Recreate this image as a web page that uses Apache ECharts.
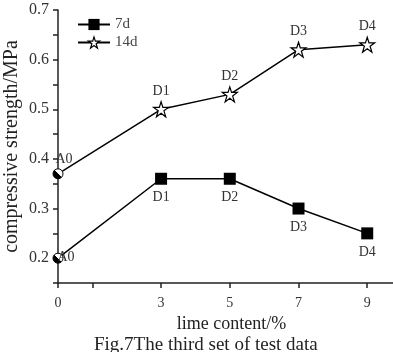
<!DOCTYPE html>
<html>
<head>
<meta charset="utf-8">
<script src="https://cdn.jsdelivr.net/npm/echarts@6/dist/echarts.min.js"></script>
<style>
  html, body { margin: 0; padding: 0; background: #fff; }
  #chart-panel { width: 393px; height: 352px; }
</style>
</head>
<body>
<div id="chart-panel"></div>
<script>
// lime content (%) and strength (MPa)
const limeContent = [0, 3, 5, 7, 9]
const pointNames = ["A0", "D1", "D2", "D3", "D4"]
const strength7d = [0.2, 0.36, 0.36, 0.3, 0.25]
const strength14d = [0.37, 0.5, 0.53, 0.62, 0.63]
const xTicks = [0, 1, 3, 5, 7, 9]
const xLabels = [0, 3, 5, 7, 9]
const yTicks = [0.15, 0.2, 0.25, 0.3, 0.35, 0.4, 0.45, 0.5, 0.55, 0.6, 0.65, 0.7]
const yLabels = [0.2, 0.3, 0.4, 0.5, 0.6, 0.7]

const font = "'Liberation Serif', 'DejaVu Serif', serif"
const starPath = "path://M50,0 L61.8,35.4 L100,35.4 L69.1,57.3 L80.9,95.1 L50,72.4 L19.1,95.1 L30.9,57.3 L0,35.4 L38.2,35.4 Z"

// half black / half white circle for the A0 points
const halfFill = {
  type: "linear", x: 1, y: 0, x2: 0, y2: 1,
  colorStops: [
    { offset: 0, color: "#fff" },
    { offset: 0.5, color: "#fff" },
    { offset: 0.5, color: "#000" },
    { offset: 1, color: "#000" }
  ]
}

const buildData = (values, labelPos) => {
  return values.map((v, i) => {
    const item = { value: [limeContent[i], v], name: pointNames[i] }
    if (i === 0) {
      item.symbol = "circle"
      item.symbolSize = 10
      item.itemStyle = { color: halfFill, borderColor: "#000", borderWidth: 1 }
      item.label = labelPos === "top"
        ? { position: [3, -16] }
        : { position: [5, -2] }
    }
    return item
  })
}

const chart = echarts.init(document.getElementById("chart-panel"))
const options = {
  animation: false,
  textStyle: { fontFamily: font },
  title: {
    text: "Fig.7The third set of test data",
    left: 89,
    top: 331,
    textStyle: { fontFamily: font, fontSize: 19, fontWeight: "normal", color: "#222" }
  },
  legend: {
    left: 72,
    top: 12,
    orient: "vertical",
    itemWidth: 32,
    itemHeight: 14,
    itemGap: 3,
    textStyle: { fontFamily: font, fontSize: 15, color: "#444" },
    data: [
      { name: "7d" },
      { name: "14d", itemStyle: { color: "#fff", borderColor: "#000", borderWidth: 1.2 } }
    ]
  },
  grid: { left: 58, top: 10, right: 0, height: 273, outerBoundsMode: "none", containLabel: false },
  xAxis: {
    type: "value",
    min: 0,
    max: 9.75,
    name: "lime content/%",
    nameLocation: "middle",
    nameGap: 32,
    nameMoveOverlap: false,
    nameTextStyle: { fontFamily: font, fontSize: 18, color: "#222", padding: [0, 0, 0, 12] },
    axisLine: { show: true, lineStyle: { color: "#222", width: 1.5 } },
    axisTick: { show: true, length: 5, customValues: xTicks, lineStyle: { color: "#222", width: 1.5 } },
    axisLabel: { customValues: xLabels, fontSize: 14, color: "#333", margin: 13, fontFamily: font },
    splitLine: { show: false }
  },
  yAxis: {
    type: "value",
    min: 0.15,
    max: 0.7,
    name: "compressive strength/MPa",
    nameLocation: "middle",
    nameGap: 36,
    nameMoveOverlap: false,
    nameTextStyle: { fontFamily: font, fontSize: 20, color: "#222" },
    axisLine: { show: true, onZero: false, lineStyle: { color: "#222", width: 1.5 } },
    axisTick: { show: true, length: 5, customValues: yTicks, lineStyle: { color: "#222", width: 1.5 } },
    axisLabel: { customValues: yLabels, fontSize: 16, color: "#333", margin: 9, fontFamily: font },
    splitLine: { show: false }
  },
  series: [
    {
      name: "7d",
      type: "line",
      symbol: "rect",
      symbolSize: 12,
      itemStyle: { color: "#000" },
      lineStyle: { color: "#000", width: 1.5 },
      label: {
        show: true,
        position: "bottom",
        distance: 6,
        formatter: "{b}",
        fontFamily: font,
        fontSize: 14,
        color: "#333"
      },
      data: buildData(strength7d, "right"),
      z: 3
    },
    {
      name: "14d",
      type: "line",
      symbol: starPath,
      symbolSize: 15,
      itemStyle: { color: "#fff", borderColor: "#000", borderWidth: 1.2 },
      lineStyle: { color: "#000", width: 1.5 },
      label: {
        show: true,
        position: "top",
        distance: 3,
        formatter: "{b}",
        fontFamily: font,
        fontSize: 14,
        color: "#333"
      },
      data: buildData(strength14d, "top"),
      z: 3
    }
  ]
}
chart.setOption(options)
</script>
</body>
</html>
